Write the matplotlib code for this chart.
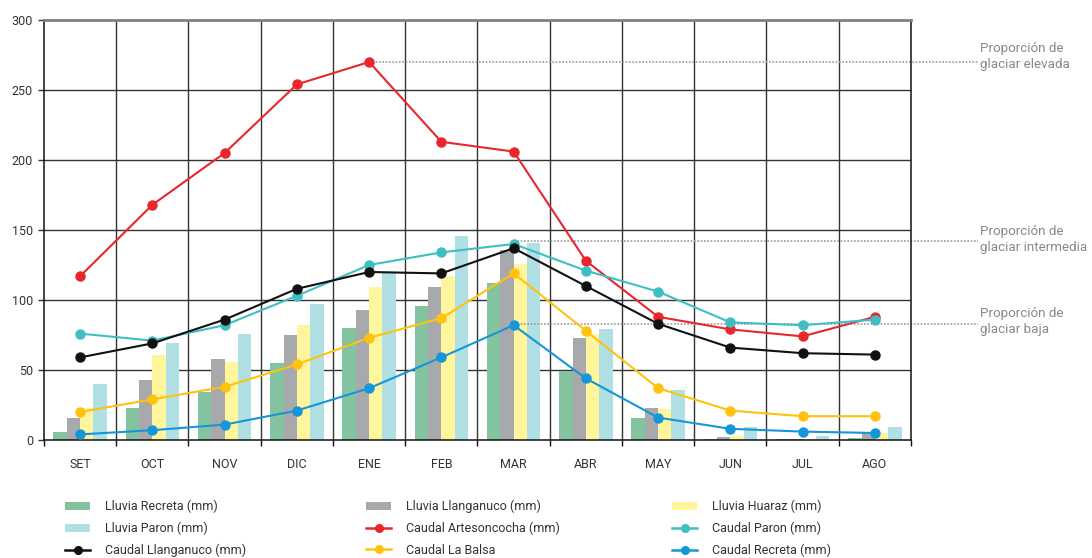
import matplotlib
matplotlib.use('Agg')
import matplotlib.pyplot as plt
import numpy as np
from matplotlib.lines import Line2D
from matplotlib.patches import Patch

plt.rcParams['font.family'] = ['Roboto', 'DejaVu Sans']

months = ['SET', 'OCT', 'NOV', 'DIC', 'ENE', 'FEB', 'MAR', 'ABR', 'MAY', 'JUN', 'JUL', 'AGO']

# rainfall bars (mm)
lluvia_recreta = [6, 23, 34, 55, 80, 96, 112, 49, 16, 1, 0.5, 1.5]
lluvia_llanganuco = [16, 43, 58, 75, 93, 109, 136, 73, 23, 2, 1, 5]
lluvia_huaraz = [23, 61, 56, 82, 109, 117, 126, 76, 22, 3, 1, 5]
lluvia_paron = [40, 69, 76, 97, 120, 146, 141, 79, 36, 9, 3, 9]

# discharge lines
caudal_artesoncocha = [117, 168, 205, 254, 270, 213, 206, 128, 88, 79, 74, 88]
caudal_paron = [76, 71, 82, 103, 125, 134, 140, 121, 106, 84, 82, 86]
caudal_llanganuco = [59, 69, 86, 108, 120, 119, 137, 110, 83, 66, 62, 61]
caudal_la_balsa = [20, 29, 38, 54, 73, 87, 119, 78, 37, 21, 17, 17]
caudal_recreta = [4, 7, 11, 21, 37, 59, 82, 44, 16, 8, 6, 5]

# glacier proportion reference lines: (label, level, start month index)
ref_labels = ['Proporción de\nglaciar elevada', 'Proporción de\nglaciar intermedia', 'Proporción de\nglaciar baja']
ref_levels = [270, 142, 83]
ref_start = [4, 6, 6]

bar_colors = ['#84c3a0', '#a8a9ad', '#fff59d', '#b0dfe4']
line_colors = ['#e8262b', '#3dbfc3', '#111111', '#ffc20e', '#1596d8']

fig = plt.figure(figsize=(10.92, 5.58), dpi=100)
ax = fig.add_axes([44 / 1092, 1 - 440 / 558, (911 - 44) / 1092, 420 / 558])

x = np.arange(len(months))
w = 0.185
bars = [lluvia_recreta, lluvia_llanganuco, lluvia_huaraz, lluvia_paron]
for i, (vals, c) in enumerate(zip(bars, bar_colors)):
    ax.bar(x + (i - 1.5) * w, vals, width=w, color=c, zorder=2, linewidth=0)

lines = [caudal_artesoncocha, caudal_paron, caudal_llanganuco, caudal_la_balsa, caudal_recreta]
for vals, c in zip(lines, line_colors):
    ax.plot(x, vals, '-o', color=c, lw=1.5, markersize=6.5, zorder=3)

# grid
for b in np.arange(0.5, 11.5, 1):
    ax.axvline(b, color='#333333', lw=1.0, zorder=1)
for yv in [50, 100, 150, 200, 250]:
    ax.axhline(yv, color='#333333', lw=1.0, zorder=1)

ax.set_xlim(-0.5, 11.5)
ax.set_ylim(0, 300)

for s in ['left', 'right', 'bottom']:
    ax.spines[s].set_color('#111111')
    ax.spines[s].set_linewidth(1.1)
ax.spines['top'].set_color('#808080')
ax.spines['top'].set_linewidth(2)

ax.set_yticks([0, 50, 100, 150, 200, 250, 300])
ax.tick_params(axis='y', length=4, width=1, color='#333333', labelsize=9, labelcolor='#333333', pad=4)
ax.set_xticks(np.arange(-0.5, 12, 1))
ax.set_xticklabels([])
ax.set_xticks(x, minor=True)
ax.set_xticklabels(months, minor=True)
ax.tick_params(axis='x', which='major', length=4, width=1, color='#111111', direction='out')
ax.tick_params(axis='x', which='minor', length=0, pad=13, labelsize=9, labelcolor='#333333')

# reference lines to the right margin
for lab, lvl, st, dy in zip(ref_labels, ref_levels, ref_start, [4, 1, 2]):
    ax.hlines(lvl, st, 12.43, colors='#9a9a9a', linestyles=(0, (1, 1)), lw=1.2, clip_on=False, zorder=2.5)
    ax.annotate(lab, xy=(12.46, lvl), xytext=(0, dy), textcoords='offset points',
                ha='left', va='center', fontsize=9.6, color='#888888', linespacing=1.3,
                annotation_clip=False)

# legend, three columns placed separately
bar_names = ['Lluvia Recreta (mm)', 'Lluvia Llanganuco (mm)', 'Lluvia Huaraz (mm)', 'Lluvia Paron (mm)']
line_names = ['Caudal Artesoncocha (mm)', 'Caudal Paron (mm)', 'Caudal Llanganuco (mm)',
              'Caudal La Balsa', 'Caudal Recreta (mm)']
h_bars = [Patch(facecolor=c, edgecolor='none') for c in bar_colors]
h_lines = [Line2D([], [], color=c, lw=1.8, marker='o', markersize=5.5) for c in line_colors]
handles = h_bars + h_lines
names = bar_names + line_names
# row-wise order in the reference
cols = [[0, 3, 6], [1, 4, 7], [2, 5, 8]]
col_x = [60 / 1092, 361 / 1092, 667 / 1092]
for cx, idx in zip(col_x, cols):
    fig.legend([handles[i] for i in idx], [names[i] for i in idx], loc='upper left',
               bbox_to_anchor=(cx, 1 - 495 / 558), frameon=False, fontsize=9,
               handlelength=2.0, handletextpad=1.2, labelspacing=0.68, borderaxespad=0,
               labelcolor='#333333')

fig.savefig('out.png', dpi=100)
